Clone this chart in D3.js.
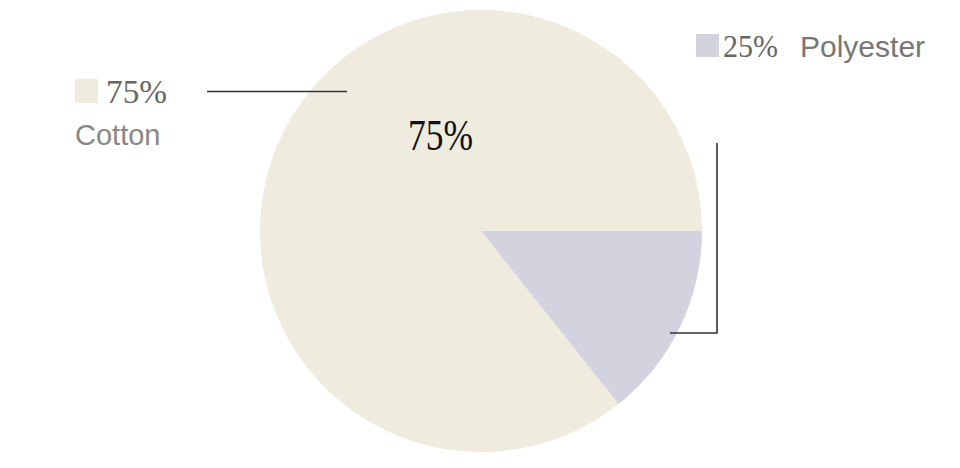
<!DOCTYPE html>
<html>
<head>
<meta charset="utf-8">
<script src="https://cdn.jsdelivr.net/npm/d3@7"></script>
<style>
  body { margin: 0; background: #fff; }
  svg { display: block; }
</style>
</head>
<body>
<div id="chart"></div>
<script>
// data
var categories = ["Cotton", "Polyester"];
var labels = ["75%", "25%"];
// share of the circle the slices actually cover in the picture
var sliceValues = [85.7, 14.3];
var colors = ["#efebdf", "#d3d3e0"];

var width = 960,
    height = 468,
    cx = 481,
    cy = 231,
    radius = 221;

var svg = d3.select("#chart").append("svg")
    .attr("width", width)
    .attr("height", height);

var total = d3.sum(sliceValues);
// polyester slice starts at 3 o'clock and goes clockwise, cotton fills the rest
var start = Math.PI / 2 + 2 * Math.PI * sliceValues[1] / total;

var pie = d3.pie()
    .sort(null)
    .value(d => d)
    .startAngle(start)
    .endAngle(start + 2 * Math.PI);

var arc = d3.arc()
    .innerRadius(0)
    .outerRadius(radius);

var g = svg.append("g")
    .attr("transform", "translate(" + cx + "," + cy + ")");

g.selectAll("path")
    .data(pie(sliceValues))
    .enter().append("path")
    .attr("fill", (d, i) => colors[i])
    .attr("d", arc);

// label inside the big slice
g.append("text")
    .attr("x", -73)
    .attr("y", -81)
    .attr("font-family", "Liberation Serif, serif")
    .attr("font-size", 44)
    .attr("fill", "#111")
    .attr("textLength", 65)
    .attr("lengthAdjust", "spacingAndGlyphs")
    .text(labels[0]);

// leader lines
svg.append("line")
    .attr("x1", 207).attr("y1", 91.5)
    .attr("x2", 347).attr("y2", 91.5)
    .attr("stroke", "#333")
    .attr("stroke-width", 1.6);

svg.append("polyline")
    .attr("points", "717,143 717,333 670,333")
    .attr("fill", "none")
    .attr("stroke", "#333")
    .attr("stroke-width", 1.6);

// cotton legend
svg.append("rect")
    .attr("x", 75).attr("y", 79)
    .attr("width", 23).attr("height", 24)
    .attr("fill", colors[0]);

svg.append("text")
    .attr("x", 106).attr("y", 103)
    .attr("font-family", "Liberation Serif, serif")
    .attr("font-size", 33)
    .attr("fill", "#666")
    .attr("textLength", 61)
    .attr("lengthAdjust", "spacingAndGlyphs")
    .text(labels[0]);

svg.append("text")
    .attr("x", 75).attr("y", 145)
    .attr("font-family", "Liberation Sans, Arial, sans-serif")
    .attr("font-size", 29)
    .attr("fill", "#888")
    .text(categories[0]);

// polyester legend
svg.append("rect")
    .attr("x", 696).attr("y", 34)
    .attr("width", 23).attr("height", 23)
    .attr("fill", colors[1]);

svg.append("text")
    .attr("x", 723).attr("y", 57)
    .attr("font-family", "Liberation Serif, serif")
    .attr("font-size", 32)
    .attr("fill", "#666")
    .attr("textLength", 55)
    .attr("lengthAdjust", "spacingAndGlyphs")
    .text(labels[1]);

svg.append("text")
    .attr("x", 800).attr("y", 57)
    .attr("font-family", "Liberation Sans, Arial, sans-serif")
    .attr("font-size", 30)
    .attr("fill", "#777")
    .text(categories[1]);
</script>
</body>
</html>
